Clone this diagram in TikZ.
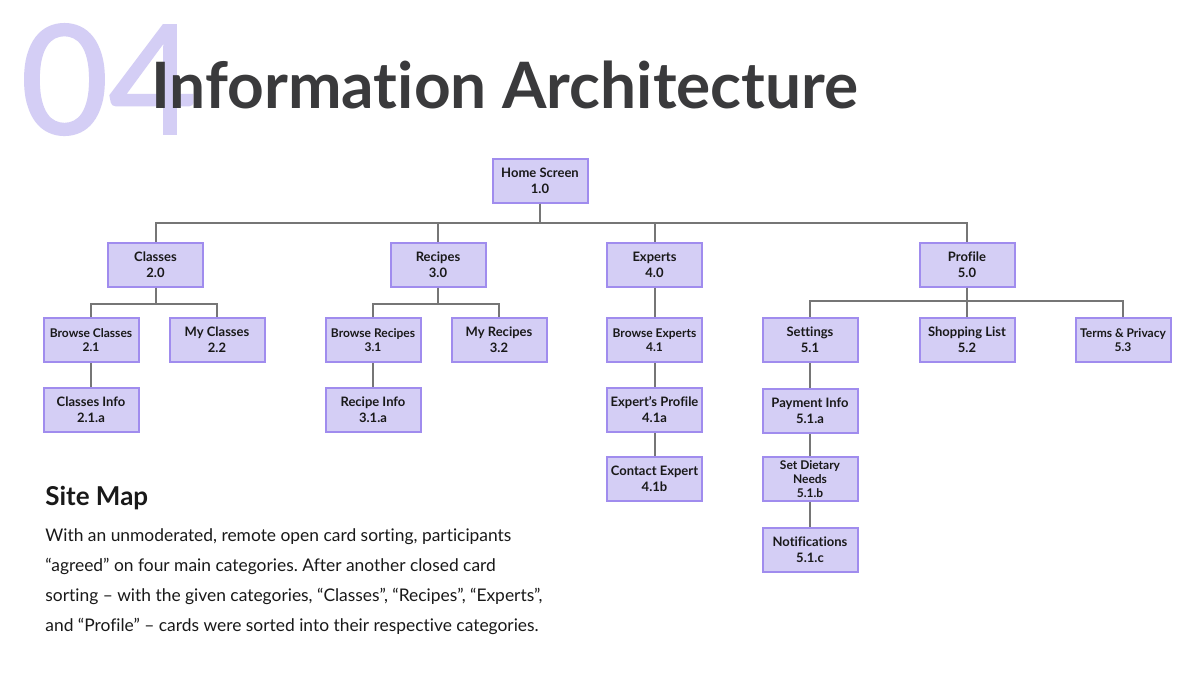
\documentclass[tikz,border=0pt]{standalone}
\usepackage{fontspec}
\usepackage{xcolor,tikz}
\usetikzlibrary{positioning,calc}
\setmainfont{Lato}[Ligatures={TeX,NoCommon}]
\newfontfamily\numfont{Lato}[FakeBold=1.2]
\frenchspacing
\definecolor{lilac}{RGB}{212,206,245}
\definecolor{lilacline}{RGB}{160,140,238}
\definecolor{titlegray}{RGB}{58,58,60}
\definecolor{linkgray}{RGB}{118,118,118}
\definecolor{bodyblack}{RGB}{25,25,25}

\begin{document}
\begin{tikzpicture}[x=0.5pt,y=-0.5pt,
 box/.style={draw=lilacline,fill=lilac,line width=1pt,align=center,inner sep=1pt,
   minimum width=47.5pt,minimum height=22pt,text=bodyblack,
   font=\bfseries\fontsize{6.5}{8}\selectfont},
 sbox/.style={box,font=\bfseries\fontsize{6}{6.8}\selectfont},
 link/.style={draw=linkgray,line width=1pt}]
\fill[white] (0,0) rectangle (1200,676);
\useasboundingbox (0,0) rectangle (1200,676);
% heading
\node[anchor=base west,inner sep=0,text=lilac,font=\numfont\fontsize{76}{76}\selectfont] (num) at (20,134) {04};
\node[anchor=base west,inner sep=0,text=titlegray,font=\bfseries\fontsize{32}{32}\selectfont] (title) at (151,108) {Information Architecture};
% bars
\coordinate (bar0) at (0,223);
\coordinate (bar1) at (0,304);
\coordinate (bar2) at (0,301);
% level 1
\node[box] (home) at (540,180.5) {Home Screen\\1.0};
% level 2
\node[box] (classes) at (155.5,264.5) {Classes\\2.0};
\node[box] (recipes) at (438,264.5) {Recipes\\3.0};
\node[box] (experts) at (654.5,264.5) {Experts\\4.0};
\node[box] (profile) at (967,264.5) {Profile\\5.0};
% level 3
\node[sbox] (bclasses) at (91,340) {Browse Classes\\2.1};
\node[box] (mclasses) at (217,340) {My Classes\\2.2};
\node[sbox] (brecipes) at (373,340) {Browse Recipes\\3.1};
\node[box] (mrecipes) at (499,340) {My Recipes\\3.2};
\node[sbox] (bexperts) at (654.5,340) {Browse Experts\\4.1};
\node[box] (settings) at (810,340) {Settings\\5.1};
\node[box] (shopping) at (967,340) {Shopping List\\5.2};
\node[sbox] (terms) at (1123,340) {Terms \& Privacy\\5.3};
% level 4
\node[box] (cinfo) at (91,410) {Classes Info\\2.1.a};
\node[box] (rinfo) at (373,410) {Recipe Info\\3.1.a};
\node[box] (eprofile) at (654.5,410) {Expert's Profile\\4.1a};
\node[box] (payment) at (810,411) {Payment Info\\5.1.a};
% level 5
\node[box] (contact) at (654.5,478.5) {Contact Expert\\4.1b};
\node[sbox] (dietary) at (810,479) {Set Dietary\\Needs\\5.1.b};
\node[box] (notif) at (810,550) {Notifications\\5.1.c};
% connectors
\foreach \n in {classes,recipes,experts,profile}
  \draw[link] (home.south) -- (home.south |- bar0) -| (\n.north);
\foreach \n in {bclasses,mclasses}
  \draw[link] (classes.south) -- (classes.south |- bar1) -| (\n.north);
\foreach \n in {brecipes,mrecipes}
  \draw[link] (recipes.south) -- (recipes.south |- bar1) -| (\n.north);
\foreach \n in {settings,shopping,terms}
  \draw[link] (profile.south) -- (profile.south |- bar2) -| (\n.north);
\draw[link] (experts) -- (bexperts);
\draw[link] (bclasses) -- (cinfo);
\draw[link] (brecipes) -- (rinfo);
\draw[link] (bexperts) -- (eprofile);
\draw[link] (eprofile) -- (contact);
\draw[link] (settings) -- (payment);
\draw[link] (payment) -- (dietary);
\draw[link] (dietary) -- (notif);
% site map text
\node[anchor=base west,inner sep=0,text=bodyblack,font=\bfseries\fontsize{13}{15}\selectfont] (sitemap) at (45,505) {Site Map};
\node[anchor=north west,inner sep=0,align=left,text=bodyblack,font=\fontsize{8.7}{15}\selectfont] (body) at (45,528)
 {With an unmoderated, remote open card sorting, participants\\
  “agreed” on four main categories. After another closed card\\
  sorting – with the given categories, “Classes”, “Recipes”, “Experts”,\\
  and “Profile” – cards were sorted into their respective categories.};
\end{tikzpicture}
\end{document}
